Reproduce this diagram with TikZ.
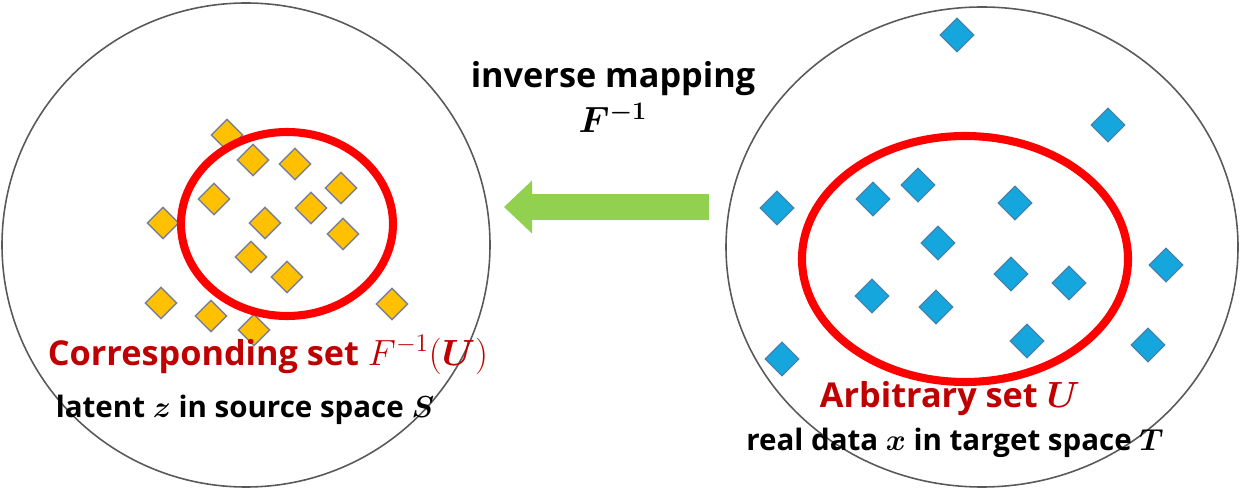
\documentclass[tikz,border=0pt]{standalone}
\usepackage{amsmath,amssymb}
\usepackage{fontspec}
\setmainfont{Open Sans}
\usepackage{tikz}
\usetikzlibrary{shapes.geometric,arrows.meta}
\definecolor{spEdge}{HTML}{595959}
\definecolor{setRed}{HTML}{FF0000}
\definecolor{lblRed}{HTML}{C00000}
\definecolor{ptOrg}{HTML}{FFC000}
\definecolor{ptOrgB}{HTML}{7A7F9A}
\definecolor{ptBlu}{HTML}{14A6DD}
\definecolor{ptBluB}{HTML}{4A7EA6}
\definecolor{mapGrn}{HTML}{92D050}
\tikzset{
  space/.style={draw=spEdge,line width=0.9pt},
  subset/.style={draw=setRed,line width=4.6pt},
  ptS/.style={diamond,aspect=1,inner sep=0pt,minimum size=0.64cm,fill=ptOrg,draw=ptOrgB,line width=0.8pt},
  ptT/.style={diamond,aspect=1,inner sep=0pt,minimum size=0.68cm,fill=ptBlu,draw=ptBluB,line width=0.6pt},
  setlbl/.style={text=lblRed,font=\fontsize{19.5}{22}\selectfont\bfseries,anchor=base,inner sep=0pt},
  spclbl/.style={font=\fontsize{16.8}{19}\selectfont\bfseries,anchor=base,inner sep=0pt},
  maplbl/.style={font=\fontsize{19.5}{22}\selectfont\bfseries,anchor=base,inner sep=0pt},
}

\begin{document}
\begin{tikzpicture}[x=0.02cm,y=-0.02cm]
\useasboundingbox (0,0) rectangle (1240,489);
% the two spaces and the two sets
\draw[space] (246,245) ellipse [x radius=244, y radius=242];
\draw[space] (982,247) ellipse [x radius=256, y radius=240];
% source points S
\foreach \x/\y [count=\i] in {227/135,253/160,295/164,341/188,214/199,311/208,163/223,265/223,343/234,251/257,287/277,161/303,211/316,254/330,392/304}
  \node[ptS] (s\i) at (\x,\y) {};
% target points T
\foreach \x/\y [count=\i] in {957/35,1108/125,777/208,873/199,918/185,1015/203,938/243,1166/265,1011/274,1069/283,872/296,936/307,1027/341,1148/345,782/359}
  \node[ptT] (t\i) at (\x,\y) {};
\draw[subset] (287,224) ellipse [x radius=106, y radius=92];
\draw[subset] (965,259) ellipse [x radius=163, y radius=123];
% inverse mapping
\coordinate (mapFrom) at (709,207);
\coordinate (mapTo) at (504,207);
\draw[mapGrn,line width=0.54cm,-{Triangle[length=0.56cm,width=1.06cm,line width=0pt]}] (mapFrom) -- (mapTo);
\node[maplbl] (mapTxt) at (613,88) {inverse mapping};
\node[maplbl] (mapSym) at (613,133) {$\boldsymbol{F^{-1}}$};
% labels
\node[setlbl] (preSet) at (268,365) {Corresponding set $F^{-1}(\boldsymbol{U})$};
\node[spclbl] (srcSp) at (245,417) {latent $\boldsymbol{z}$ in source space $\boldsymbol{S}$};
\node[setlbl] (arbSet) at (950,407) {Arbitrary set $\boldsymbol{U}$};
\node[spclbl] (tgtSp) at (955,450) {real data $\boldsymbol{x}$ in target space $\boldsymbol{T}$};
\end{tikzpicture}
\end{document}
